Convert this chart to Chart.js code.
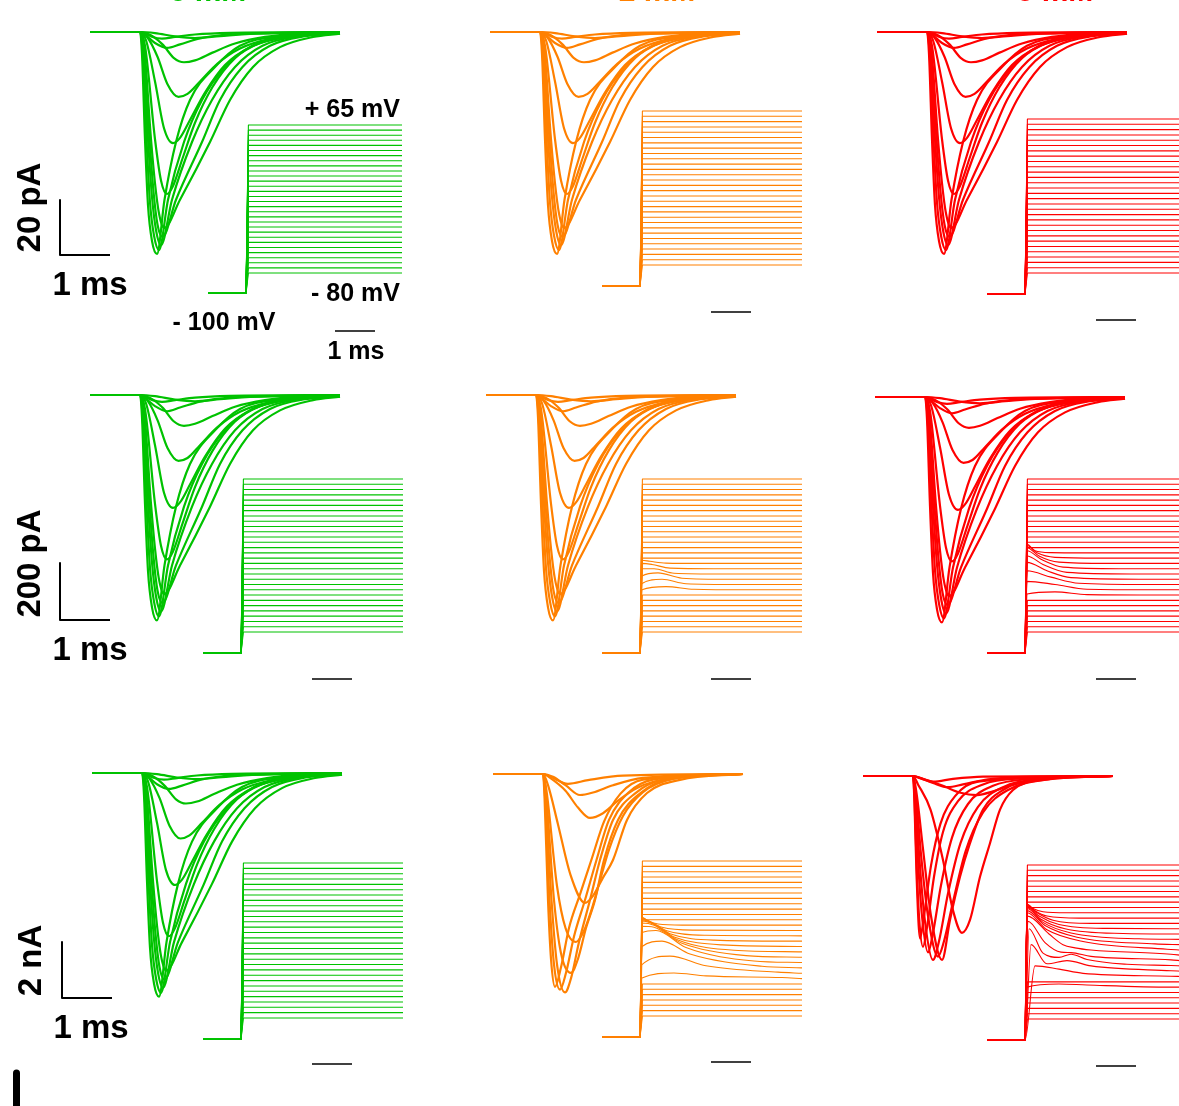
<!DOCTYPE html>
<html>
<head>
<meta charset="utf-8">
<script src="https://cdn.jsdelivr.net/npm/chart.js@4.4.1/dist/chart.umd.min.js"></script>
<style>
  html, body { margin: 0; padding: 0; background: #fff; }
  body { position: relative; width: 1179px; height: 1106px; overflow: hidden;
         font-family: "Liberation Sans", Arial, Helvetica, sans-serif; }
  canvas { position: absolute; }
  .lbl { position: absolute; white-space: nowrap; font-weight: bold; color: #000; }
</style>
</head>
<body>
<script>
// ---- sodium current families: each trace is [t(ms), I, t, I, ...] ----
// Row 1 (pA)
const currentsRow1 = [
  [0,0, 1.0,0, 1.04,-8, 1.1,-39, 1.16,-63, 1.24,-76, 1.34,-80.7, 1.49,-61, 1.72,-40, 2.0,-24.7, 2.5,-12.7, 3.0,-5, 3.8,-1.5, 5,-0.3],
  [0,0, 1.0,0, 1.05,-7, 1.13,-39, 1.2,-62, 1.28,-74, 1.38,-79.3, 1.56,-61, 1.88,-40, 2.24,-24.7, 2.7,-12.7, 3.25,-5, 4.0,-1.5, 5,-0.3],
  [0,0, 1.0,0, 1.06,-7, 1.16,-39, 1.24,-60, 1.32,-72, 1.42,-77.5, 1.64,-61, 2.04,-40, 2.44,-24.7, 2.9,-12.7, 3.45,-5, 4.2,-1.5, 5,-0.4],
  [0,0, 1.0,0, 1.07,-6, 1.19,-39, 1.27,-58, 1.35,-70, 1.45,-74.5, 1.72,-61, 2.24,-40, 2.6,-24.7, 3.05,-12.7, 3.6,-5, 4.3,-1.5, 5,-0.5],
  [0,0, 1.0,0, 1.08,-5, 1.22,-39, 1.3,-55, 1.38,-66, 1.48,-71.3, 1.8,-61, 2.4,-40, 2.8,-24.7, 3.26,-12.7, 3.8,-5.5, 4.46,-1.8, 5,-0.6],
  [0,0, 1.0,0, 1.1,-5, 1.3,-39, 1.42,-54, 1.54,-58.9, 1.66,-56, 1.85,-46, 2.1,-33, 2.45,-20, 2.9,-9.5, 3.4,-4, 4.1,-1.3, 5,-0.4],
  [0,0, 1.0,0, 1.12,-3, 1.3,-18, 1.48,-35, 1.66,-40.4, 1.8,-38.5, 2.0,-32, 2.3,-22, 2.7,-12, 3.2,-5.5, 3.8,-2.2, 5,-0.4],
  [0,0, 1.0,0, 1.15,-2, 1.35,-9, 1.55,-19, 1.77,-23.6, 1.95,-22.5, 2.2,-18, 2.55,-11.5, 3.0,-6, 3.6,-2.5, 4.3,-0.9, 5,-0.3],
  [0,0, 1.0,0, 1.2,-1, 1.45,-4.5, 1.68,-9.5, 1.88,-11, 2.1,-10.3, 2.45,-7.5, 2.9,-4.2, 3.5,-1.8, 4.2,-0.6, 5,-0.2],
  [0,0, 1.0,0, 1.1,-1, 1.3,-4, 1.54,-5.8, 1.8,-4.5, 2.2,-2.3, 2.8,-0.9, 5,-0.1],
  [0,0, 1.0,0, 1.1,-0.6, 1.25,-1.8, 1.44,-2.4, 1.7,-1.8, 2.1,-0.9, 2.8,-0.3, 5,0],
  [0,0, 1.0,0, 1.3,-0.4, 1.7,-1.6, 2.1,-2.2, 2.6,-1.5, 3.2,-0.7, 5,-0.1]
];
// Row 2 (pA)
const currentsRow2 = [
  [0,0, 1.0,0, 1.04,-78, 1.1,-382, 1.16,-617, 1.24,-745, 1.34,-791, 1.49,-598, 1.72,-392, 2.0,-242, 2.5,-124, 3.0,-49, 3.8,-15, 5,-3],
  [0,0, 1.0,0, 1.05,-69, 1.13,-382, 1.2,-608, 1.28,-725, 1.38,-777, 1.56,-598, 1.88,-392, 2.24,-242, 2.7,-124, 3.25,-49, 4.0,-15, 5,-3],
  [0,0, 1.0,0, 1.06,-69, 1.16,-382, 1.24,-588, 1.32,-706, 1.42,-760, 1.64,-598, 2.04,-392, 2.44,-242, 2.9,-124, 3.45,-49, 4.2,-15, 5,-4],
  [0,0, 1.0,0, 1.07,-59, 1.19,-382, 1.27,-568, 1.35,-686, 1.45,-730, 1.72,-598, 2.24,-392, 2.6,-242, 3.05,-124, 3.6,-49, 4.3,-15, 5,-5],
  [0,0, 1.0,0, 1.08,-49, 1.22,-382, 1.3,-539, 1.38,-647, 1.48,-699, 1.8,-598, 2.4,-392, 2.8,-242, 3.26,-124, 3.8,-54, 4.46,-18, 5,-6],
  [0,0, 1.0,0, 1.1,-49, 1.3,-382, 1.42,-529, 1.54,-577, 1.66,-549, 1.85,-451, 2.1,-323, 2.45,-196, 2.9,-93, 3.4,-39, 4.1,-13, 5,-4],
  [0,0, 1.0,0, 1.12,-29, 1.3,-176, 1.48,-343, 1.66,-396, 1.8,-377, 2.0,-314, 2.3,-216, 2.7,-118, 3.2,-54, 3.8,-22, 5,-4],
  [0,0, 1.0,0, 1.15,-20, 1.35,-88, 1.55,-186, 1.77,-231, 1.95,-221, 2.2,-176, 2.55,-113, 3.0,-59, 3.6,-25, 4.3,-9, 5,-3],
  [0,0, 1.0,0, 1.2,-10, 1.45,-44, 1.68,-93, 1.88,-108, 2.1,-101, 2.45,-74, 2.9,-41, 3.5,-18, 4.2,-6, 5,-2],
  [0,0, 1.0,0, 1.1,-10, 1.3,-39, 1.54,-57, 1.8,-44, 2.2,-23, 2.8,-9, 5,-1],
  [0,0, 1.0,0, 1.1,-6, 1.25,-18, 1.44,-24, 1.7,-18, 2.1,-9, 2.8,-3, 5,0],
  [0,0, 1.0,0, 1.3,-4, 1.7,-16, 2.1,-22, 2.6,-15, 3.2,-7, 5,-1]
];
// Row 3, control (nA)
const currentsRow3Green = [
  [0,0, 1.0,0, 1.04,-0.79, 1.1,-3.86, 1.16,-6.24, 1.24,-7.52, 1.34,-7.99, 1.49,-6.04, 1.72,-3.96, 2.0,-2.45, 2.5,-1.26, 3.0,-0.5, 3.8,-0.15, 5,-0.03],
  [0,0, 1.0,0, 1.05,-0.69, 1.13,-3.86, 1.2,-6.14, 1.28,-7.33, 1.38,-7.85, 1.56,-6.04, 1.88,-3.96, 2.24,-2.45, 2.7,-1.26, 3.25,-0.5, 4.0,-0.15, 5,-0.03],
  [0,0, 1.0,0, 1.06,-0.69, 1.16,-3.86, 1.24,-5.94, 1.32,-7.13, 1.42,-7.67, 1.64,-6.04, 2.04,-3.96, 2.44,-2.45, 2.9,-1.26, 3.45,-0.5, 4.2,-0.15, 5,-0.04],
  [0,0, 1.0,0, 1.07,-0.59, 1.19,-3.86, 1.27,-5.74, 1.35,-6.93, 1.45,-7.38, 1.72,-6.04, 2.24,-3.96, 2.6,-2.45, 3.05,-1.26, 3.6,-0.5, 4.3,-0.15, 5,-0.05],
  [0,0, 1.0,0, 1.08,-0.5, 1.22,-3.86, 1.3,-5.45, 1.38,-6.53, 1.48,-7.06, 1.8,-6.04, 2.4,-3.96, 2.8,-2.45, 3.26,-1.26, 3.8,-0.54, 4.46,-0.18, 5,-0.06],
  [0,0, 1.0,0, 1.1,-0.5, 1.3,-3.86, 1.42,-5.35, 1.54,-5.83, 1.66,-5.54, 1.85,-4.55, 2.1,-3.27, 2.45,-1.98, 2.9,-0.94, 3.4,-0.4, 4.1,-0.13, 5,-0.04],
  [0,0, 1.0,0, 1.12,-0.3, 1.3,-1.78, 1.48,-3.47, 1.66,-4.0, 1.8,-3.81, 2.0,-3.17, 2.3,-2.18, 2.7,-1.19, 3.2,-0.54, 3.8,-0.22, 5,-0.04],
  [0,0, 1.0,0, 1.15,-0.2, 1.35,-0.89, 1.55,-1.88, 1.77,-2.34, 1.95,-2.23, 2.2,-1.78, 2.55,-1.14, 3.0,-0.59, 3.6,-0.25, 4.3,-0.09, 5,-0.03],
  [0,0, 1.0,0, 1.2,-0.1, 1.45,-0.45, 1.68,-0.94, 1.88,-1.09, 2.1,-1.02, 2.45,-0.74, 2.9,-0.42, 3.5,-0.18, 4.2,-0.06, 5,-0.02],
  [0,0, 1.0,0, 1.1,-0.1, 1.3,-0.4, 1.54,-0.57, 1.8,-0.45, 2.2,-0.23, 2.8,-0.09, 5,-0.01],
  [0,0, 1.0,0, 1.1,-0.06, 1.25,-0.18, 1.44,-0.24, 1.7,-0.18, 2.1,-0.09, 2.8,-0.03, 5,0],
  [0,0, 1.0,0, 1.3,-0.04, 1.7,-0.16, 2.1,-0.22, 2.6,-0.15, 3.2,-0.07, 5,-0.01]
];
// Row 3, intermediate (nA)
const currentsRow3Orange = [
  [0,0, 1.0,0, 1.03,-0.8, 1.1,-4.5, 1.16,-6.6, 1.24,-7.6, 1.36,-6.9, 1.52,-5.5, 1.74,-4.3, 1.98,-3.0, 2.22,-1.7, 2.55,-0.7, 3.0,-0.2, 5,0],
  [0,0, 1.0,0, 1.04,-0.8, 1.13,-4.5, 1.22,-6.8, 1.34,-7.7, 1.46,-7.1, 1.62,-5.8, 1.84,-4.5, 2.07,-3.07, 2.32,-1.64, 2.7,-0.68, 3.2,-0.2, 5,0],
  [0,0, 1.0,0, 1.05,-0.8, 1.17,-4.5, 1.28,-6.8, 1.44,-7.8, 1.56,-7.3, 1.72,-6.0, 1.94,-4.5, 2.14,-3.07, 2.4,-1.64, 2.85,-0.68, 3.4,-0.2, 5,0],
  [0,0, 1.0,0, 1.06,-0.7, 1.22,-4.5, 1.36,-6.4, 1.56,-7.1, 1.7,-6.6, 1.86,-5.5, 2.04,-4.5, 2.22,-3.07, 2.5,-1.64, 2.95,-0.68, 3.5,-0.2, 5,0],
  [0,0, 1.0,0, 1.07,-0.6, 1.28,-4.0, 1.45,-5.5, 1.66,-6.0, 1.82,-5.6, 1.98,-4.8, 2.14,-3.8, 2.32,-2.7, 2.6,-1.5, 3.0,-0.65, 3.6,-0.18, 5,0],
  [0,0, 1.0,0, 1.1,-0.4, 1.3,-1.8, 1.55,-3.6, 1.84,-4.6, 2.0,-4.35, 2.2,-3.7, 2.4,-3.07, 2.68,-1.64, 3.08,-0.68, 3.74,-0.21, 5,0],
  [0,0, 1.0,0, 1.15,-0.15, 1.45,-0.6, 1.7,-1.2, 1.94,-1.57, 2.2,-1.4, 2.5,-0.95, 2.9,-0.48, 3.5,-0.16, 5,0],
  [0,0, 1.0,0, 1.2,-0.1, 1.45,-0.4, 1.74,-0.75, 2.0,-0.66, 2.4,-0.4, 3.0,-0.14, 5,0],
  [0,0, 1.0,0, 1.15,-0.1, 1.5,-0.35, 1.9,-0.22, 2.6,-0.06, 5,0]
];
// Row 3, high (nA)
const currentsRow3Red = [
  [0,0, 1.0,0, 1.03,-1, 1.07,-3.5, 1.14,-5.8, 1.22,-5.0, 1.36,-3.2, 1.55,-1.7, 1.85,-0.7, 2.3,-0.2, 5,0],
  [0,0, 1.0,0, 1.03,-0.8, 1.07,-3, 1.12,-5, 1.2,-6.1, 1.28,-5.4, 1.42,-3.6, 1.6,-2.0, 1.9,-0.9, 2.4,-0.3, 3.2,-0.08, 5,0],
  [0,0, 1.0,0, 1.04,-0.8, 1.1,-3, 1.18,-5, 1.3,-6.3, 1.4,-5.6, 1.56,-3.9, 1.78,-2.2, 2.1,-1.0, 2.6,-0.35, 3.4,-0.1, 5,0],
  [0,0, 1.0,0, 1.05,-0.8, 1.13,-3, 1.24,-5.2, 1.4,-6.57, 1.52,-5.9, 1.7,-4.2, 1.95,-2.4, 2.3,-1.1, 2.8,-0.4, 3.6,-0.1, 5,0],
  [0,0, 1.0,0, 1.06,-0.7, 1.16,-2.8, 1.3,-5.0, 1.5,-6.45, 1.62,-5.9, 1.8,-4.5, 2.05,-2.7, 2.4,-1.3, 2.9,-0.5, 3.7,-0.12, 5,0],
  [0,0, 1.0,0, 1.07,-0.6, 1.2,-2.6, 1.36,-5.0, 1.58,-6.57, 1.74,-5.14, 1.94,-3.6, 2.14,-2.4, 2.4,-1.2, 2.8,-0.5, 3.5,-0.12, 5,0],
  [0,0, 1.0,0, 1.1,-0.3, 1.35,-1.2, 1.6,-3.0, 1.8,-4.8, 1.98,-5.6, 2.14,-5.14, 2.34,-3.6, 2.54,-2.4, 2.74,-1.2, 3.0,-0.5, 3.6,-0.14, 5,0],
  [0,0, 1.0,0, 1.2,-0.1, 1.6,-0.35, 1.95,-0.6, 2.28,-0.68, 2.6,-0.55, 3.0,-0.3, 3.6,-0.1, 5,0],
  [0,0, 1.0,0, 1.15,-0.08, 1.4,-0.25, 1.7,-0.4, 2.0,-0.3, 2.5,-0.12, 3.2,-0.03, 5,0],
  [0,0, 1.0,0, 1.1,-0.05, 1.4,-0.2, 1.8,-0.1, 2.4,-0.02, 5,0]
];

// ---- voltage protocol (inset): hold at -100 mV, step to -80 ... +65 mV ----
const holdLevel = -100;
const stepLevels = [-80,-75,-70,-65,-60,-55,-50,-45,-40,-35,-30,-25,-20,-15,-10,-5,0,5,10,15,20,25,30,35,40,45,50,55,60,65];
const holdEnd = 0.95;      // ms
const stepStart = 1.01;    // ms
const insetEnd = [4.85, 5.0, 4.85, 5.0, 5.0, 4.85, 5.0, 5.0, 4.85];

// escape of the clamped voltage during large currents: level -> [t, V, t, V, ...]
const escapeRow2Orange = {
  '-15': [1.0,-12, 1.2,-13, 1.6,-14.7, 2.5,-15],
  '-20': [1.0,-15, 1.25,-16, 1.7,-19.5, 2.8,-20],
  '-25': [1.0,-20, 1.3,-20, 1.8,-24.3, 3.0,-25],
  '-30': [1.0,-27, 1.4,-24, 2.0,-29, 3.2,-30],
  '-35': [1.0,-34, 1.5,-30, 2.1,-34.3, 3.4,-35],
  '-40': [1.0,-40, 1.6,-37, 2.3,-39.5, 3.6,-40]
};
const escapeRow2Red = {
  '-5':  [1.0,3, 1.2,-3, 1.6,-4.8, 2.4,-5],
  '-10': [1.0,2, 1.25,-5, 1.7,-9.3, 2.8,-10],
  '-15': [1.0,0, 1.3,-8, 1.8,-13.8, 3.0,-15],
  '-20': [1.0,-3, 1.35,-11, 1.9,-18.5, 3.3,-20],
  '-25': [1.0,-8, 1.4,-16, 2.0,-23.5, 3.6,-25],
  '-30': [1.0,-14, 1.5,-22, 2.1,-28.5, 3.8,-30],
  '-35': [1.0,-22, 1.6,-28, 2.3,-33.8, 4.0,-35],
  '-40': [1.0,-32, 1.7,-35, 2.5,-39.5, 4.2,-40],
  '-45': [1.0,-44, 1.7,-42, 2.5,-44.6, 4.4,-45]
};
const escapeRow3Orange = {
  '5':   [1.0,12, 1.15,9, 1.4,6, 2.0,5],
  '0':   [1.0,12, 1.2,8, 1.5,3, 2.3,0.3],
  '-5':  [1.0,11, 1.22,8, 1.6,0, 2.6,-4.5],
  '-10': [1.0,10, 1.25,7, 1.7,-3, 2.8,-9],
  '-15': [1.0,9, 1.28,6, 1.8,-6, 3.0,-13.5],
  '-20': [1.0,7, 1.3,5, 1.9,-9, 3.3,-18.5],
  '-25': [1.0,4, 1.3,3, 2.0,-12, 3.6,-23.5],
  '-30': [1.0,-2, 1.35,0, 2.1,-16, 3.8,-28.5],
  '-35': [1.0,-15, 1.5,-10, 2.2,-22, 4.0,-33.5],
  '-40': [1.0,-32, 1.7,-24, 2.6,-33, 4.4,-39],
  '-45': [1.0,-44.5, 1.8,-39.8, 2.6,-42.5, 4.5,-44]
};
const escapeRow3Red = {
  '20':  [1.0,28, 1.15,24, 1.4,21, 2.0,20],
  '15':  [1.0,28, 1.2,22, 1.5,17, 2.3,15],
  '10':  [1.0,27, 1.25,20, 1.65,13, 2.6,10],
  '5':   [1.0,26, 1.3,17, 1.8,9, 3.0,5.3],
  '0':   [1.0,25, 1.35,14, 1.95,5, 3.4,0.5],
  '-5':  [1.0,24, 1.4,11, 2.1,1, 3.8,-4.5],
  '-10': [1.0,22, 1.45,8, 2.25,-3, 4.2,-9.3],
  '-15': [1.0,20, 1.5,4, 2.4,-7, 4.5,-14.3],
  '-20': [1.0,17, 1.55,0, 1.9,-10, 2.2,-13, 2.6,-15, 4.6,-19],
  '-25': [1.02,12, 1.45,-8, 1.85,-17, 2.1,-17.5, 2.6,-21, 4.6,-24.3],
  '-30': [1.05,5, 1.4,-18, 1.8,-22, 2.1,-19, 2.5,-24, 3.5,-28.5, 4.6,-29.6],
  '-35': [1.1,-10, 1.5,-28, 2.0,-25, 2.6,-30, 4.6,-34.6],
  '-40': [1.2,-30, 1.8,-33, 2.4,-37, 4.6,-39.7],
  '-50': [1.0,-50, 1.8,-47, 2.5,-48, 4.6,-50]
};

// ---- scale bars (data units) ----
const currentBarT = -0.6;                      // ms, left end of the L bar
const currentBarBase = [-81.1, -789.5, -8.04]; // row 1 pA, row 2 pA, row 3 nA
const currentBarSize = [20, 200, 2];
const timeBar = 1;                             // ms
const insetBarT = [3.175, 2.725, 2.725, 2.725, 2.725, 2.725, 2.725, 2.725, 2.725];
const insetBarV = [-136.8, -124.3, -124.3, -124.5, -124.5, -124.5, -123, -123, -124.3];

// ---- layout ----
const COLORS = ['#00c200', '#ff8000', '#ff0000'];
const PX_MS = 50, PX_MS_INSET = 40;
const mainLayout = [
  {x0: 90, y0: 32, ky: 2.75}, {x0: 490, y0: 32, ky: 2.75}, {x0: 877, y0: 32, ky: 2.75},
  {x0: 90, y0: 395, ky: 0.285}, {x0: 486, y0: 395, ky: 0.285}, {x0: 875, y0: 397, ky: 0.285},
  {x0: 92, y0: 773, ky: 28}, {x0: 493, y0: 774, ky: 28}, {x0: 863, y0: 776, ky: 28}
];
const insetLayout = [
  {x0: 208, yTop: 125, yBot: 273}, {x0: 602, yTop: 111, yBot: 265}, {x0: 987, yTop: 119, yBot: 273},
  {x0: 203, yTop: 479, yBot: 632}, {x0: 602, yTop: 479, yBot: 632}, {x0: 987, yTop: 479, yBot: 632},
  {x0: 203, yTop: 863, yBot: 1018}, {x0: 602, yTop: 861, yBot: 1016}, {x0: 987, yTop: 865, yBot: 1019}
];
const panelCurrents = [currentsRow1, currentsRow1, currentsRow1,
                       currentsRow2, currentsRow2, currentsRow2,
                       currentsRow3Green, currentsRow3Orange, currentsRow3Red];
const panelEscapes = [null, null, null, null, escapeRow2Orange, escapeRow2Red, null, escapeRow3Orange, escapeRow3Red];

function toPoints(flat) {
  const pts = [];
  for (let i = 0; i < flat.length; i += 2) pts.push({x: flat[i], y: flat[i + 1]});
  return pts;
}

function makeChart(left, top, width, height, xr, yr, datasets) {
  const c = document.createElement('canvas');
  c.width = Math.round(width); c.height = Math.round(height);
  c.style.left = left + 'px'; c.style.top = top + 'px';
  c.style.width = Math.round(width) + 'px'; c.style.height = Math.round(height) + 'px';
  document.body.appendChild(c);
  return new Chart(c.getContext('2d'), {
    type: 'line',
    data: {datasets},
    options: {
      responsive: false, animation: false, devicePixelRatio: 1, parsing: false,
      layout: {padding: 0},
      plugins: {legend: {display: false}, tooltip: {enabled: false}},
      elements: {point: {radius: 0, hoverRadius: 0}},
      events: [],
      scales: {
        x: {type: 'linear', display: false, min: xr[0], max: xr[1]},
        y: {type: 'linear', display: false, min: yr[0], max: yr[1]}
      }
    }
  });
}

function lineSet(points, color, width, smooth) {
  return {data: points, borderColor: color, borderWidth: width, fill: false,
          cubicInterpolationMode: smooth ? 'monotone' : 'default', tension: 0,
          borderJoinStyle: 'round', borderCapStyle: 'butt', clip: false};
}

for (let p = 0; p < 9; p++) {
  const row = Math.floor(p / 3), col = p % 3, color = COLORS[col];

  // current traces
  const L = mainLayout[p];
  const padL = 100, padR = 275, padT = 30, padB = 340;
  const xr = [-padL / PX_MS, padR / PX_MS];
  const yr = [-padB / L.ky, padT / L.ky];
  const sets = panelCurrents[p].map(tr => lineSet(toPoints(tr), color, 2.2, true));
  if (col === 0) {
    const b0 = currentBarBase[row], bs = currentBarSize[row];
    sets.push(lineSet([{x: currentBarT, y: b0 + bs}, {x: currentBarT, y: b0}, {x: currentBarT + timeBar, y: b0}], '#000', 2, false));
  }
  if (p === 6) {
    // edge of the next figure block
    sets.push(lineSet([{x: -1.51, y: -10.71}, {x: -1.51, y: -12.6}], '#000', 7, false));
  }
  makeChart(L.x0 - padL, L.y0 - padT, padL + padR, padT + padB, xr, yr, sets);

  // voltage protocol inset
  const I = insetLayout[p];
  const kv = (I.yBot - I.yTop) / 145;
  const iTop = I.yTop - 10, iBot = I.yBot + 70, iLeft = I.x0 - 6, iRight = I.x0 + 210;
  const ixr = [(iLeft - I.x0) / PX_MS_INSET, (iRight - I.x0) / PX_MS_INSET];
  const iyr = [-80 - (iBot - I.yBot) / kv, -80 + (I.yBot - iTop) / kv];
  const esc = panelEscapes[p];
  const isets = stepLevels.map(v => {
    const key = String(v);
    if (esc && esc[key]) {
      const pts = [{x: 0, y: holdLevel}, {x: holdEnd, y: holdLevel}].concat(toPoints(esc[key]));
      pts.push({x: insetEnd[p], y: v});
      return lineSet(pts, color, 1.1, true);
    }
    return lineSet([{x: 0, y: holdLevel}, {x: holdEnd, y: holdLevel}, {x: stepStart, y: v}, {x: insetEnd[p], y: v}], color, 1.1, false);
  });
  isets.push(lineSet([{x: insetBarT[p], y: insetBarV[p]}, {x: insetBarT[p] + timeBar, y: insetBarV[p]}], '#000', 1.6, false));
  makeChart(iLeft, iTop, iRight - iLeft, iBot - iTop, ixr, iyr, isets);
}

// ---- text ----
function label(text, x, y, size, opts) {
  opts = opts || {};
  const d = document.createElement('div');
  d.className = 'lbl';
  d.textContent = text;
  d.style.fontSize = size + 'px';
  d.style.lineHeight = size + 'px';
  if (opts.color) d.style.color = opts.color;
  d.style.left = x + 'px';
  d.style.top = (y - size / 2) + 'px';
  let tf = '';
  if (opts.align === 'right') tf = 'translateX(-100%)';
  else tf = 'translateX(-50%)';
  if (opts.rotate) tf = 'translate(-50%, 0) rotate(-90deg)';
  d.style.transform = tf;
  document.body.appendChild(d);
}
label('0 mM', 208, -9, 30, {color: COLORS[0]});
label('2 mM', 657, -9, 30, {color: COLORS[1]});
label('5 mM', 1055, -9, 30, {color: COLORS[2]});

label('+ 65 mV', 400, 108, 25, {align: 'right'});
label('- 80 mV', 400, 292, 25, {align: 'right'});
label('- 100 mV', 224, 321, 25);
label('1 ms', 356, 350, 25);

label('20 pA', 28, 207, 33, {rotate: true});
label('200 pA', 28, 563, 33, {rotate: true});
label('2 nA', 29, 960, 33, {rotate: true});
label('1 ms', 90, 283, 33);
label('1 ms', 90, 648, 33);
label('1 ms', 91, 1026, 33);
</script>
</body>
</html>
